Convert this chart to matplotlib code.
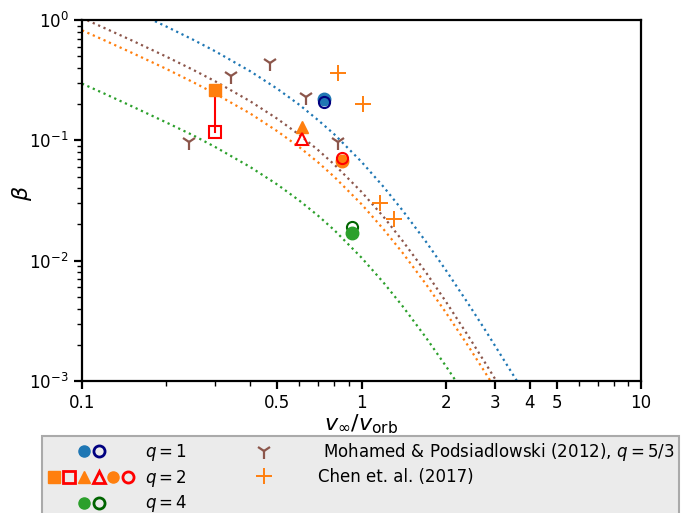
import matplotlib
matplotlib.use("Agg")
import matplotlib.pyplot as plt
from matplotlib.lines import Line2D
from matplotlib.legend_handler import HandlerTuple
import matplotlib.ticker as mticker

# ---- curves (v_inf/v_orb, beta) ----
u_curve = [0.1, 0.12, 0.15, 0.2, 0.25, 0.3, 0.4, 0.5, 0.6, 0.7, 0.8, 1.0, 1.2,
           1.4, 1.7, 2.0, 2.4, 2.8, 3.2, 3.6, 4.0]
beta_q1 = [1.85, 1.53, 1.21, 0.884, 0.685, 0.549, 0.375, 0.268, 0.197, 0.147, 0.112,
           0.0663, 0.0410, 0.0263, 0.0144, 0.00839, 0.00445, 0.00255, 0.00155,
           0.000999, 0.000669]
beta_q53 = [1.04, 0.860, 0.680, 0.497, 0.385, 0.309, 0.211, 0.151, 0.111, 0.0829,
            0.0628, 0.0373, 0.0231, 0.0147, 0.00800, 0.00460, 0.00240, 0.00136,
            0.00082, 0.00053, 0.00036]
beta_q2 = [0.821, 0.680, 0.537, 0.393, 0.304, 0.244, 0.167, 0.119, 0.0876, 0.0655,
           0.0496, 0.0295, 0.0182, 0.0117, 0.00639, 0.00373, 0.00198, 0.00113,
           0.000691, 0.000444, 0.000297]
beta_q4 = [0.296, 0.245, 0.193, 0.141, 0.110, 0.0879, 0.0600, 0.0429, 0.0315, 0.0236,
           0.0179, 0.0106, 0.00656, 0.00421, 0.00230, 0.00134, 0.000711, 0.000408,
           0.000249, 0.00016, 0.000107]

# ---- simulation points ----
q1_u = 0.734; q1_beta_filled = 0.22; q1_beta_open = 0.21
q2_sq_u = 0.30; q2_sq_filled = 0.26; q2_sq_open = 0.118
q2_tri_u = 0.611; q2_tri_filled = 0.13; q2_tri_open = 0.103
q2_circ_u = 0.849; q2_circ_filled = 0.067; q2_circ_open = 0.072
q4_u = 0.923; q4_beta_filled = 0.0171; q4_beta_open = 0.0189

# ---- literature points ----
mp_u = [0.241, 0.341, 0.471, 0.631, 0.826]
mp_beta = [0.097, 0.34, 0.436, 0.231, 0.097]
chen_u = [0.823, 1.01, 1.165, 1.307]
chen_beta = [0.36, 0.20, 0.030, 0.0222]

x_ticks = [0.1, 0.5, 1, 2, 3, 4, 5, 10]
x_ticklabels = ["0.1", "0.5", "1", "2", "3", "4", "5", "10"]

fig = plt.figure(figsize=(6.82, 5.13), dpi=100)
ax = fig.add_axes([82/682, 1-381/513, (641-82)/682, (381-20)/513])
ax.set_xscale("log")
ax.set_yscale("log")

lw = 1.6
ax.plot(u_curve, beta_q1, ls=":", color="C0", lw=lw)
ax.plot(u_curve, beta_q53, ls=":", color="C5", lw=lw)
ax.plot(u_curve, beta_q2, ls=":", color="C1", lw=lw)
ax.plot(u_curve, beta_q4, ls=":", color="C2", lw=lw)

ms = 8
mew = 2
# red connector
ax.plot([q2_sq_u, q2_sq_u], [q2_sq_filled, q2_sq_open], color="red", lw=1.5, zorder=3)
ax.plot([q2_sq_u], [q2_sq_filled], "s", color="C1", ms=ms + 0.5, zorder=4)
ax.plot([q2_sq_u], [q2_sq_open], "s", mfc="none", mec="red", mew=mew - 0.5, ms=ms, zorder=4)
ax.plot([q2_tri_u], [q2_tri_filled], "^", color="C1", ms=ms + 1, zorder=4)
ax.plot([q2_tri_u], [q2_tri_open], "^", mfc="none", mec="red", mew=mew - 0.5, ms=ms, zorder=4)
ax.plot([q2_circ_u], [q2_circ_filled], "o", color="C1", ms=ms + 1, zorder=4)
ax.plot([q2_circ_u], [q2_circ_open], "o", mfc="none", mec="red", mew=mew - 0.5, ms=ms, zorder=4)
ax.plot([q1_u], [q1_beta_filled], "o", color="C0", ms=ms + 1, zorder=4)
ax.plot([q1_u], [q1_beta_open], "o", mfc="none", mec="navy", mew=mew - 0.5, ms=ms, zorder=4)
ax.plot([q4_u], [q4_beta_open], "o", mfc="none", mec="darkgreen", mew=mew - 0.5, ms=ms, zorder=4)
ax.plot([q4_u], [q4_beta_filled], "o", color="C2", ms=ms + 1, zorder=4)

ax.plot(mp_u, mp_beta, ls="none", marker="1", color="C5", ms=11, mew=1.6)
ax.plot(chen_u, chen_beta, ls="none", marker="+", color="C1", ms=11, mew=1.4)

ax.set_xlim(0.1, 10)
ax.set_ylim(1e-3, 1)
ax.xaxis.set_major_locator(mticker.FixedLocator(x_ticks))
ax.xaxis.set_major_formatter(mticker.FixedFormatter(x_ticklabels))
ax.xaxis.set_minor_locator(mticker.LogLocator(base=10, subs=range(2, 10), numticks=20))
ax.xaxis.set_minor_formatter(mticker.NullFormatter())

for sp in ax.spines.values():
    sp.set_linewidth(1.6)
ax.tick_params(which="major", length=6, width=1.6, labelsize=12, direction="out")
ax.tick_params(which="minor", length=3.5, width=1.0, direction="out")

ax.set_xlabel(r"$v_\infty/v_{\rm orb}$", fontsize=16, labelpad=0)
ax.set_ylabel(r"$\beta$", fontsize=16)
ax.yaxis.set_label_coords(-0.085, 0.52)

# ---- legend ----
def f(marker, **kw):
    return Line2D([], [], ls="none", marker=marker, ms=ms, **kw)

h_q1 = (f("o", color="C0"), f("o", mfc="none", mec="navy", mew=mew))
h_q2 = (f("s", color="C1"), f("s", mfc="none", mec="red", mew=mew),
        f("^", color="C1"), f("^", mfc="none", mec="red", mew=mew),
        f("o", color="C1"), f("o", mfc="none", mec="red", mew=mew))
h_q4 = (f("o", color="C2"), f("o", mfc="none", mec="darkgreen", mew=mew))
h_mp = Line2D([], [], ls="none", marker="1", color="C5", ms=11, mew=1.6)
h_chen = Line2D([], [], ls="none", marker="+", color="C1", ms=11, mew=1.4)

fs = 12
handles = [h_q1, h_q2, h_q4, h_mp, h_chen]
labels = [r"$q=1$", r"$q=2$", r"$q=4$",
          r" Mohamed & Podsiadlowski (2012), $q=5/3$", "Chen et. al. (2017)"]
leg = fig.legend(handles, labels, loc="upper left",
                 bbox_to_anchor=(42/682, 1-436/513), borderaxespad=0,
                 ncol=2, fontsize=fs, handlelength=5.3, handletextpad=0.6,
                 columnspacing=1.9, borderpad=0.3, labelspacing=0.28,
                 frameon=True, fancybox=False,
                 handler_map={h_q1: HandlerTuple(ndivide=None, pad=-3.5),
                              h_q4: HandlerTuple(ndivide=None, pad=-3.5),
                              h_q2: HandlerTuple(ndivide=None, pad=0.0)})
frame = leg.get_frame()
frame.set_facecolor("#ebebeb")
frame.set_edgecolor("#aaaaaa")
frame.set_linewidth(1.5)
frame.set_alpha(1)

fig.savefig("out.png", dpi=100)
